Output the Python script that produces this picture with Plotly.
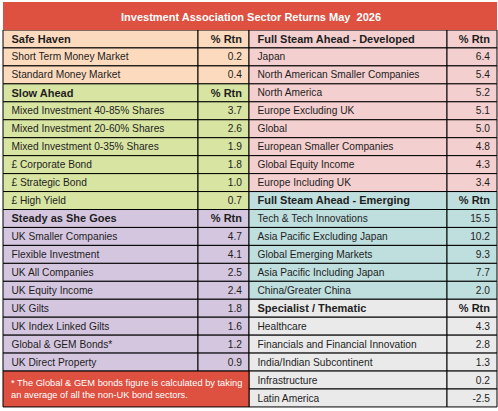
import plotly.graph_objects as go

# chart text and values
title_text = "Investment Association Sector Returns May  2026"
rtn_label = "% Rtn"

safe_haven = ["Short Term Money Market", "Standard Money Market"]
safe_haven_rtn = [0.2, 0.4]

slow_ahead = ["Mixed Investment 40-85% Shares", "Mixed Investment 20-60% Shares",
              "Mixed Investment 0-35% Shares", "£ Corporate Bond", "£ Strategic Bond",
              "£ High Yield"]
slow_ahead_rtn = [3.7, 2.6, 1.9, 1.8, 1.0, 0.7]

steady = ["UK Smaller Companies", "Flexible Investment", "UK All Companies",
          "UK Equity Income", "UK Gilts", "UK Index Linked Gilts",
          "Global & GEM Bonds*", "UK Direct Property"]
steady_rtn = [4.7, 4.1, 2.5, 2.4, 1.8, 1.6, 1.2, 0.9]

developed = ["Japan", "North American Smaller Companies", "North America",
             "Europe Excluding UK", "Global", "European Smaller Companies",
             "Global Equity Income", "Europe Including UK"]
developed_rtn = [6.4, 5.4, 5.2, 5.1, 5.0, 4.8, 4.3, 3.4]

emerging = ["Tech & Tech Innovations", "Asia Pacific Excluding Japan",
            "Global Emerging Markets", "Asia Pacific Including Japan",
            "China/Greater China"]
emerging_rtn = [15.5, 10.2, 9.3, 7.7, 2.0]

specialist = ["Healthcare", "Financials and Financial Innovation",
              "India/Indian Subcontinent", "Infrastructure", "Latin America"]
specialist_rtn = [4.3, 2.8, 1.3, 0.2, -2.5]

footnote = ("* The Global & GEM bonds figure is calculated by taking<br>"
            "an average of all the non-UK bond sectors.")

# colours
RED = "#DE5040"
left_sections = [
    ("Safe Haven", safe_haven, safe_haven_rtn, "#FCDABD"),
    ("Slow Ahead", slow_ahead, slow_ahead_rtn, "#D8E4A2"),
    ("Steady as She Goes", steady, steady_rtn, "#D5C6E0"),
]
right_sections = [
    ("Full Steam Ahead - Developed", developed, developed_rtn, "#F4CFCF"),
    ("Full Steam Ahead - Emerging", emerging, emerging_rtn, "#BFDEDE"),
    ("Specialist / Thematic", specialist, specialist_rtn, "#EAEAEA"),
]

W, H = 498, 411
ROW = 17.95
TOP = 30
FONT = "Liberation Sans, Arial"
TXT = "#1e1e1e"

shapes = []
fig = go.Figure()


def add_block(sections, x0, xm, x1):
    # x0..xm is the name column, xm..x1 the % column
    names, vals, ys, sizes = [], [], [], []
    i = 0
    for head, items, rtns, col in sections:
        rows = [("<b>" + head + "</b>", "<b>" + rtn_label + "</b>", 11)]
        rows += [(n, f"{r:.1f}", 10.2) for n, r in zip(items, rtns)]
        for n, v, s in rows:
            y0 = TOP + i * ROW
            for a, b in ((x0, xm), (xm, x1)):
                shapes.append(dict(type="rect", xref="x", yref="y", x0=a, x1=b,
                                   y0=y0, y1=y0 + ROW, fillcolor=col,
                                   line=dict(color="black", width=1), layer="below"))
            names.append(n)
            vals.append(v)
            sizes.append(s)
            ys.append(y0 + ROW / 2 + 1)  # text sits a touch below centre
            i += 1
    fig.add_trace(go.Scatter(x=[x0 + 8.5] * len(ys), y=ys, text=names, mode="text",
                             textposition="middle right", hoverinfo="skip",
                             textfont=dict(family=FONT, size=sizes, color=TXT)))
    fig.add_trace(go.Scatter(x=[x1 - 7] * len(ys), y=ys, text=vals, mode="text",
                             textposition="middle left", hoverinfo="skip",
                             textfont=dict(family=FONT, size=sizes, color=TXT)))
    return TOP + i * ROW


left_end = add_block(left_sections, 3, 198, 249)
right_end = add_block(right_sections, 249, 447, 497)

# title bar and footnote box
shapes.append(dict(type="rect", xref="x", yref="y", x0=3, x1=497, y0=2, y1=TOP,
                   fillcolor=RED, line=dict(width=0), layer="below"))
shapes.append(dict(type="rect", xref="x", yref="y", x0=3, x1=249, y0=left_end,
                   y1=left_end + 2 * ROW, fillcolor=RED,
                   line=dict(color="black", width=1), layer="below"))

fig.update_layout(
    width=W, height=H,
    margin=dict(l=0, r=0, t=0, b=0),
    paper_bgcolor="white", plot_bgcolor="white",
    showlegend=False,
    xaxis=dict(range=[0, W], visible=False, fixedrange=True),
    yaxis=dict(range=[H, 0], visible=False, fixedrange=True),
    shapes=shapes,
    annotations=[
        dict(text="<b>" + title_text + "</b>", xref="x", yref="y",
             x=250.5, y=(2 + TOP) / 2 + 0.5, showarrow=False, xanchor="center", yanchor="middle",
             font=dict(family=FONT, size=11, color="white")),
        dict(text=footnote, xref="x", yref="y", align="left",
             x=9, y=left_end + ROW, showarrow=False,
             xanchor="left", yanchor="middle",
             font=dict(family=FONT, size=9.3, color="white")),
    ],
)

# the page body has a default 8px margin, remove it so the figure sits at 0,0
fig.write_html("out.html", config={"displayModeBar": False},
               post_script="document.body.style.margin='0';")
